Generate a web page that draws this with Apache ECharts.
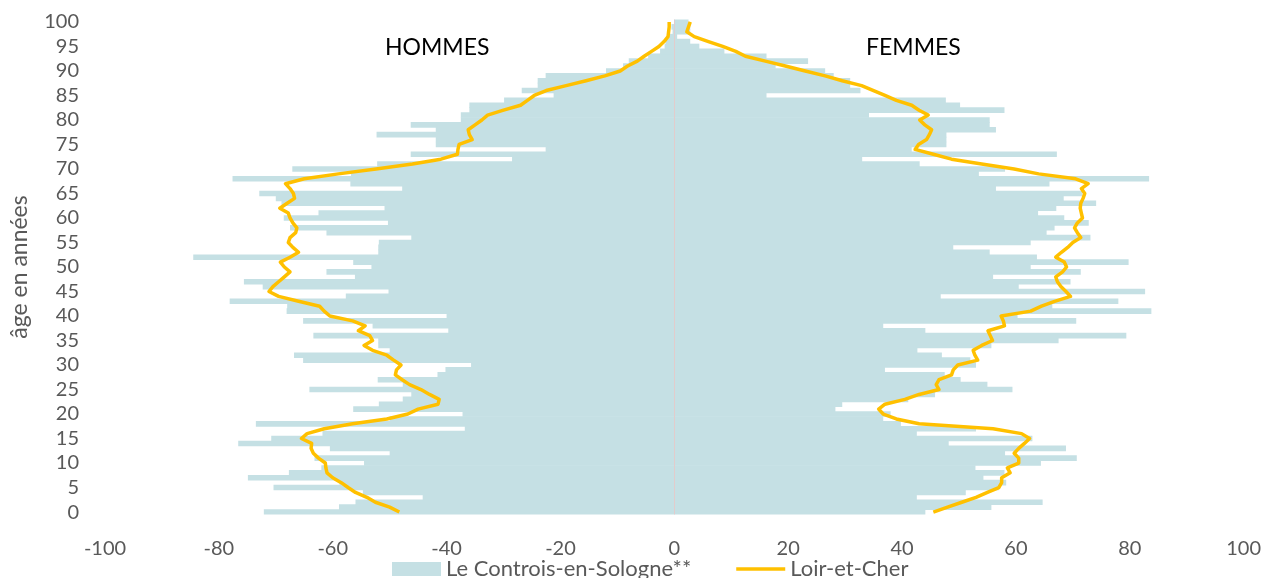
<!DOCTYPE html>
<html>
<head>
<meta charset="utf-8">
<script src="https://cdn.jsdelivr.net/npm/echarts@6/dist/echarts.min.js"></script>
<style>
    html, body { margin: 0; padding: 0; background: #fff; }
    #pyramid { width: 1264px; height: 578px; }
</style>
</head>
<body>
<div id="pyramid"></div>
<script>
// âges 0..100
const ages = Array.from({ length: 101 }, (_, i) => String(i));

// Le Controis-en-Sologne (indice, hommes en négatif)
const controisHommes = [
    -72.1, -58.9, -56.0, -44.2, -54.7, -70.4, -58.8, -74.9, -67.7, -62.0,
    -54.5, -63.2, -50.0, -60.5, -76.6, -70.8, -61.8, -36.8, -73.5, -50.0,
    -37.2, -56.4, -51.9, -47.7, -46.2, -64.1, -47.7, -52.1, -41.6, -40.2,
    -35.7, -65.2, -66.8, -50.0, -52.0, -52.0, -63.4, -39.7, -53.0, -65.2,
    -40.0, -68.1, -68.0, -78.1, -57.7, -50.2, -72.3, -75.6, -56.1, -61.1,
    -53.2, -56.4, -84.5, -52.0, -52.0, -51.9, -46.2, -61.1, -67.5, -50.3,
    -68.6, -62.5, -50.9, -69.0, -70.0, -72.9, -47.8, -56.9, -77.6, -56.8,
    -67.1, -52.2, -28.5, -46.3, -22.6, -41.9, -41.9, -52.3, -41.9, -46.3,
    -37.5, -37.5, -36.0, -36.0, -29.9, -21.2, -26.8, -24.0, -24.0, -22.6,
    -12.0, -9.0, -8.0, -4.6, -2.5, -1.7, -1.5, -1.0, -0.3, -0.5,
    0
];
const controisFemmes = [
    44.1, 55.7, 64.7, 42.6, 51.2, 57.0, 58.3, 54.3, 58.0, 52.9,
    64.4, 70.7, 58.1, 68.8, 48.2, 62.9, 42.6, 53.0, 39.8, 36.7,
    38.0, 28.3, 29.5, 41.1, 45.8, 59.4, 55.0, 50.3, 47.5, 37.0,
    53.0, 52.0, 47.0, 42.7, 55.7, 67.5, 79.4, 44.1, 36.7, 70.6,
    60.3, 83.8, 66.4, 78.0, 46.8, 82.7, 60.5, 69.6, 56.0, 71.4,
    62.6, 79.8, 63.7, 55.4, 49.0, 62.6, 73.1, 65.4, 66.8, 72.8,
    68.5, 63.9, 67.1, 74.1, 68.4, 71.7, 56.5, 65.9, 83.4, 53.5,
    58.1, 43.1, 33.0, 67.2, 41.7, 47.8, 47.8, 47.8, 56.5, 55.4,
    55.4, 34.2, 58.0, 50.2, 47.7, 16.2, 32.7, 30.9, 30.9, 28.0,
    26.5, 17.8, 23.5, 16.2, 8.8, 4.4, 2.8, 0.5, 2.8, 2.8,
    2.5
];

// Loir-et-Cher
const loirHommes = [
    -48.3, -50.0, -52.5, -54.0, -56.0, -57.3, -58.5, -60.0, -61.0, -61.2,
    -61.3, -62.5, -63.4, -63.8, -63.7, -65.5, -64.5, -61.5, -56.5, -50.5,
    -46.8, -45.0, -41.5, -41.3, -43.0, -44.5, -46.5, -47.8, -49.0, -48.8,
    -48.0, -49.3, -50.5, -53.0, -54.5, -53.0, -53.5, -55.5, -54.3, -56.5,
    -60.5, -61.5, -62.3, -66.0, -69.5, -71.2, -70.5, -69.5, -68.5, -67.5,
    -68.5, -69.2, -67.5, -66.0, -67.0, -67.8, -67.5, -66.5, -66.3, -67.0,
    -67.5, -67.8, -69.3, -68.0, -66.7, -66.9, -67.5, -68.3, -65.0, -59.0,
    -52.4, -46.0, -41.0, -38.1, -38.0, -37.8, -35.5, -36.0, -36.2, -35.0,
    -33.8, -32.8, -30.0, -27.0, -25.8, -24.6, -22.5, -19.0, -15.5, -12.2,
    -9.5, -8.2, -6.5, -5.3, -4.0, -2.7, -1.8, -1.1, -1.0, -0.9,
    -0.9
];
const loirFemmes = [
    45.5, 48.0, 50.5, 53.0, 55.0, 57.0, 57.5, 57.5, 59.0, 58.5,
    60.5, 60.5, 59.7, 60.5, 61.5, 62.4, 61.0, 56.0, 43.0, 39.0,
    36.7, 35.9, 37.0, 40.5, 43.0, 46.5, 46.0, 46.5, 48.7, 49.0,
    49.8, 53.3, 52.8, 52.5, 54.0, 55.9, 55.5, 55.1, 58.0, 57.8,
    57.4, 62.6, 64.5, 66.8, 69.6, 68.8, 67.9, 67.3, 67.0, 68.2,
    68.9, 68.5, 67.0, 68.0, 69.1, 70.0, 71.4, 70.8, 70.3, 70.8,
    71.7, 71.5, 71.3, 71.4, 71.8, 72.1, 71.5, 72.7, 70.5, 64.0,
    59.7, 54.0, 48.7, 45.5, 42.3, 42.9, 44.3, 44.8, 45.2, 44.0,
    43.1, 44.6, 43.0, 41.7, 39.0, 37.0, 35.0, 32.9, 29.5, 26.5,
    23.0, 19.5, 16.0, 12.5, 10.8, 8.5, 6.0, 3.5, 2.2, 2.5,
    2.8
];

const barName = 'Le Controis-en-Sologne**';
const lineName = 'Loir-et-Cher';
const barColor = '#c5e0e4';
const lineColor = '#ffc000';
const textFont = 'Lato';

const chart = echarts.init(document.getElementById('pyramid'));
const option = {
    animation: false,
    textStyle: { fontFamily: textFont },
    grid: { left: 100, right: 19, top: 19.5, bottom: 63.5, containLabel: false },
    xAxis: {
        type: 'value',
        min: -100,
        max: 100,
        interval: 20,
        axisLine: { show: false },
        axisTick: { show: false },
        splitLine: { show: false },
        axisLabel: { color: '#595959', fontSize: 20, fontFamily: textFont, margin: 24 }
    },
    yAxis: {
        type: 'category',
        data: ages,
        name: 'âge en années',
        nameLocation: 'middle',
        nameRotate: 90,
        nameGap: 74,
        nameTextStyle: { color: '#595959', fontSize: 23, fontFamily: textFont },
        axisLine: { show: false },
        axisTick: { show: false },
        splitLine: { show: false },
        axisLabel: { interval: 4, color: '#595959', fontSize: 20, fontFamily: textFont, margin: 26 }
    },
    legend: {
        left: 387,
        top: 553,
        itemWidth: 49,
        itemHeight: 14,
        itemGap: 45,
        symbolKeepAspect: true,
        textStyle: { color: '#595959', fontSize: 22, fontFamily: textFont },
        data: [
            { name: barName, icon: 'rect' },
            { name: lineName, icon: 'path://M0,0L50,0L50,3.5L0,3.5Z' }
        ]
    },
    graphic: [
        { type: 'text', left: 385, top: 36, style: { text: 'HOMMES', fill: '#000', font: '23px Lato' } },
        { type: 'text', left: 866, top: 36, style: { text: 'FEMMES', fill: '#000', font: '23px Lato' } }
    ],
    series: [
        {
            name: barName,
            type: 'bar',
            data: controisHommes,
            barGap: '-100%',
            barWidth: 5.6,
            itemStyle: { color: barColor },
            markLine: {
                silent: true,
                symbol: 'none',
                label: { show: false },
                lineStyle: { color: '#e2cccc', width: 1, type: 'solid' },
                data: [{ xAxis: 0 }]
            }
        },
        {
            name: barName,
            type: 'bar',
            data: controisFemmes,
            barGap: '-100%',
            barWidth: 5.6,
            itemStyle: { color: barColor }
        },
        {
            name: lineName,
            type: 'line',
            data: loirHommes,
            symbol: 'none',
            lineStyle: { color: lineColor, width: 3.5, join: 'round' },
            itemStyle: { color: lineColor },
            z: 5
        },
        {
            name: lineName,
            type: 'line',
            data: loirFemmes,
            symbol: 'none',
            lineStyle: { color: lineColor, width: 3.5, join: 'round' },
            itemStyle: { color: lineColor },
            z: 5
        }
    ]
};
chart.setOption(option);
window.addEventListener('resize', function () {
    chart.resize();
});
</script>
</body>
</html>
